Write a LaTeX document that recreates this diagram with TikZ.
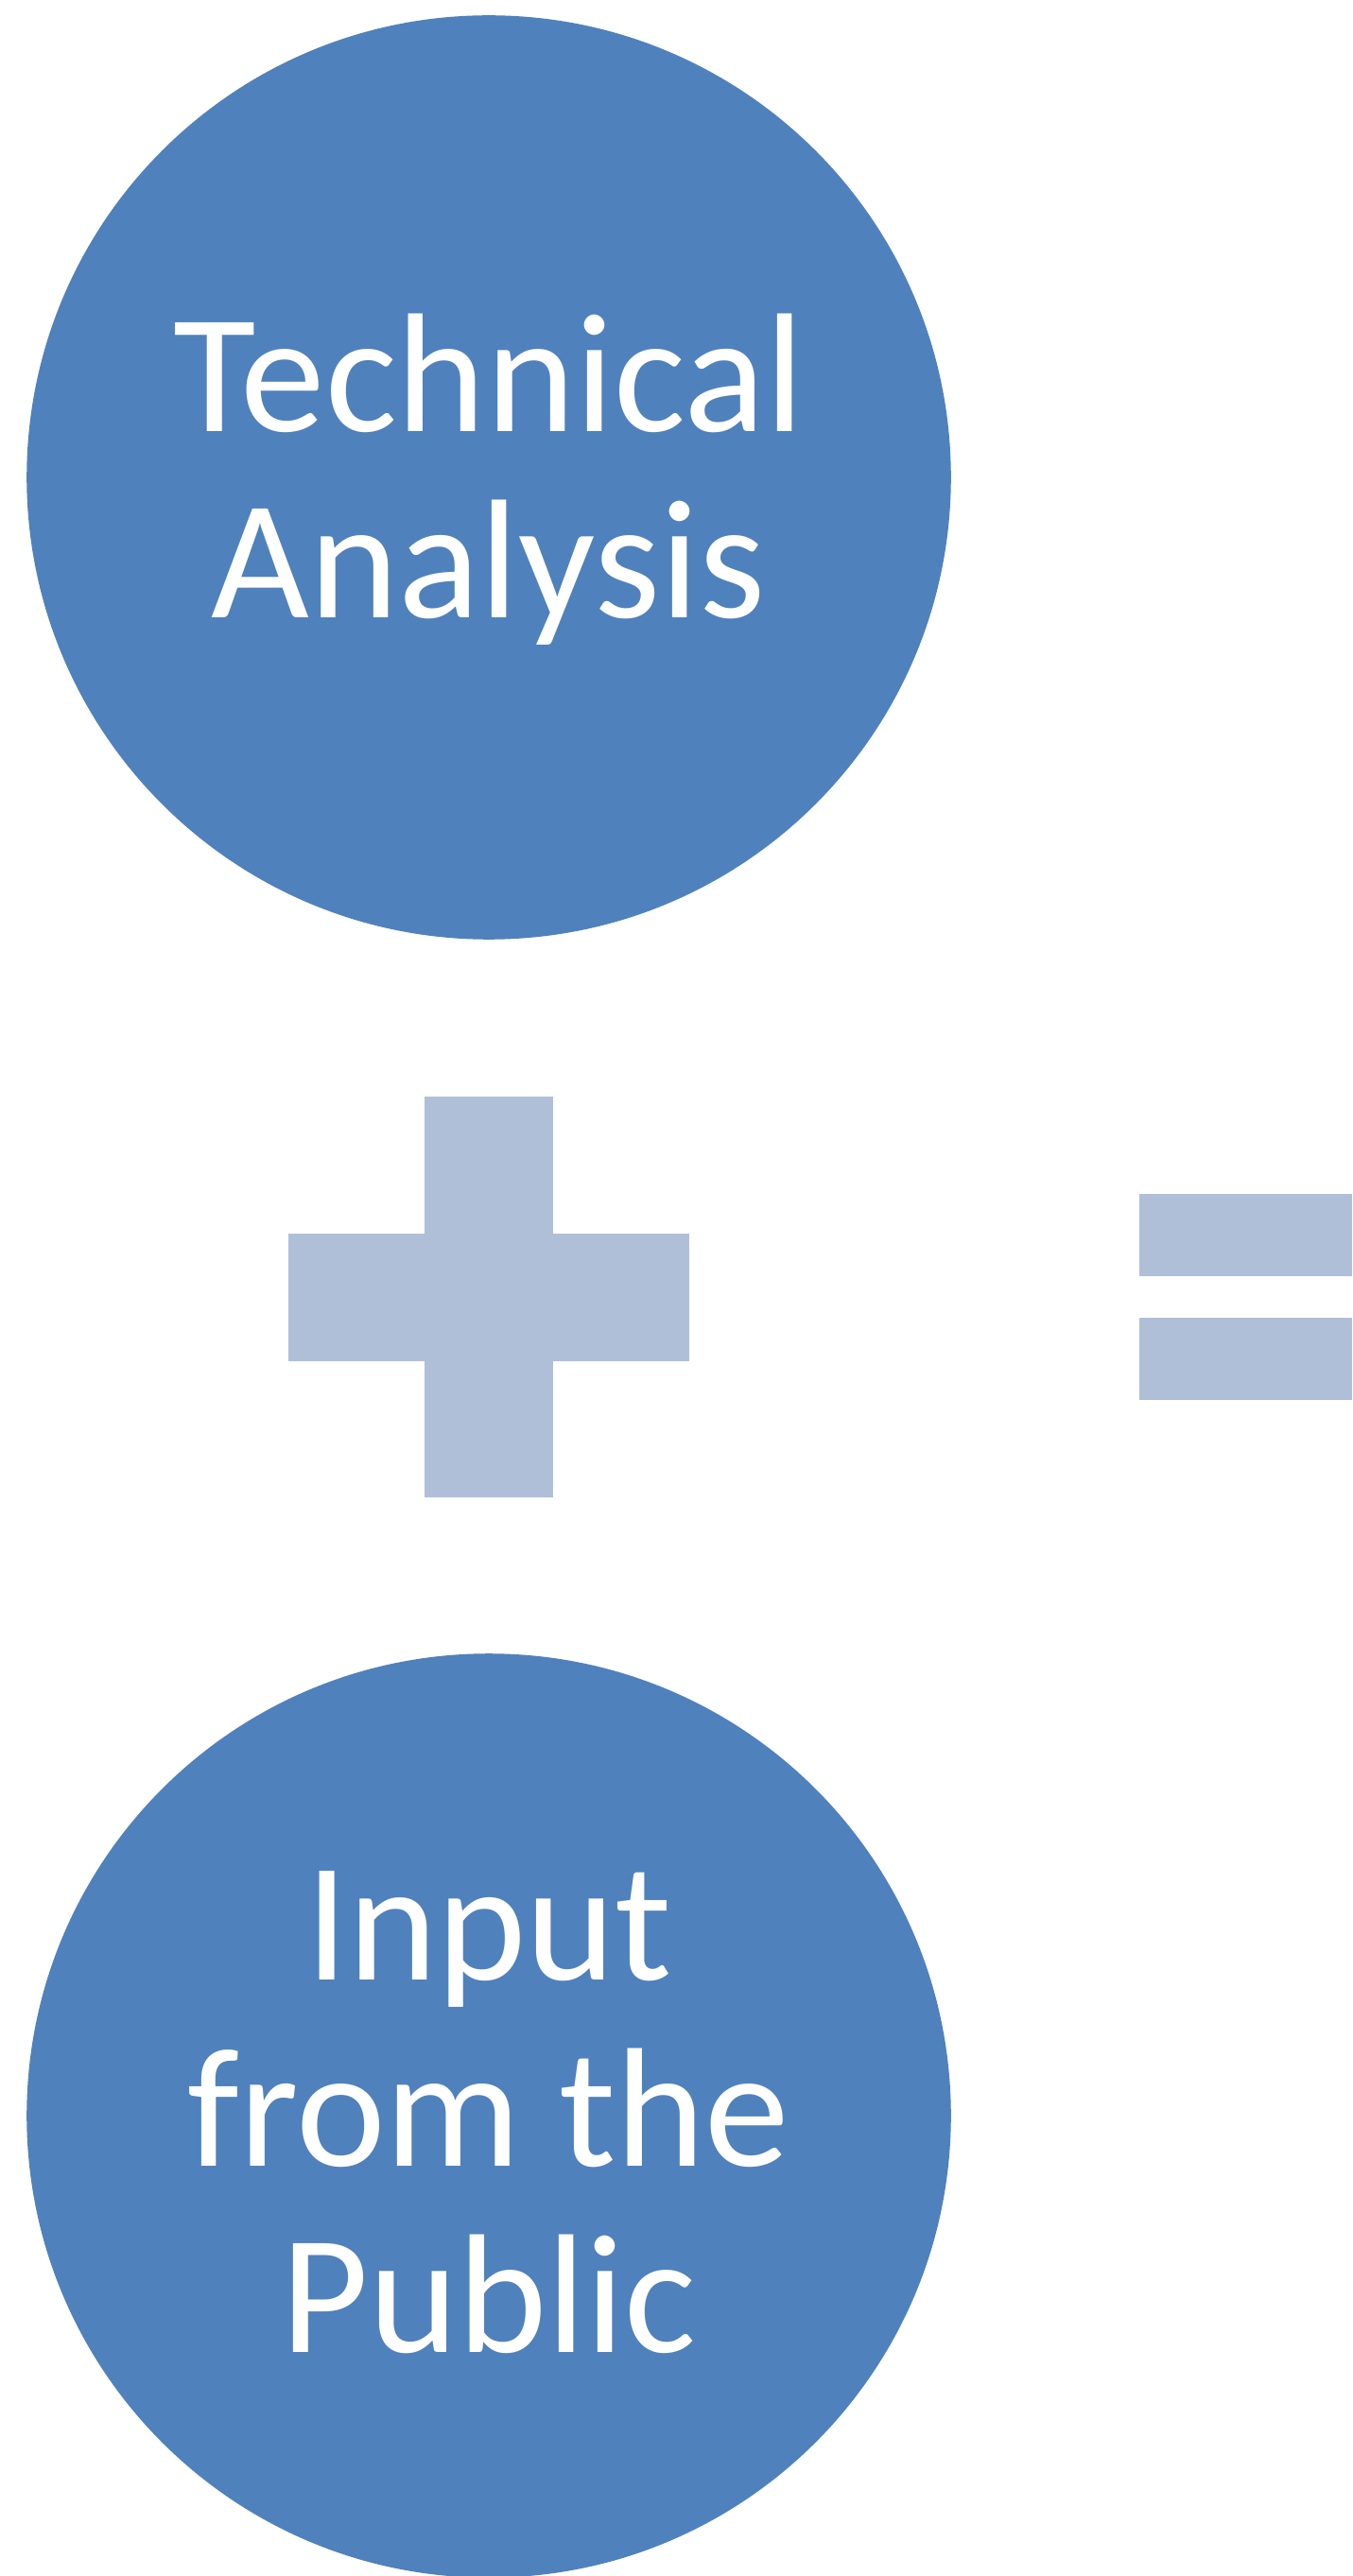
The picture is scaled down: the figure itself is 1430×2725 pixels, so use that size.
\documentclass[tikz,border=0pt]{standalone}
\usepackage{fontspec}
\setmainfont{Carlito}
\usepackage{xcolor}
\usetikzlibrary{positioning}

\definecolor{discblue}{RGB}{79,129,189}
\definecolor{signblue}{RGB}{176,191,216}

\begin{document}
\begin{tikzpicture}[
    x=0.01cm, y=-0.01cm,
    disc/.style={
        circle, fill=discblue, draw=none,
        minimum size=9.77cm, inner sep=0pt
    },
    disctext/.style={
        text=white, align=center, inner sep=0pt,
        font=\fontsize{51pt}{56pt}\selectfont
    },
    sign/.style={
        fill=signblue
    }
]
\useasboundingbox (0,0) rectangle (1430,2725);

% — Circles —
\node[disc] (tech) at (517,505) {};
\node[disctext] (tech_text) at ([yshift=-0.02cm]tech.center) {Technical\\Analysis};

\node[disc] (public) at (517,2238) {};
\node[disctext] (public_text) at ([yshift=0.03cm]public.center) {Input\\from the\\Public};

% — Plus sign —
\fill[sign] (449,1160) rectangle (585,1584);
\fill[sign] (305,1305) rectangle (729,1440);

% — Equals sign —
\fill[sign] (1205,1263) rectangle (1430,1350);
\fill[sign] (1205,1394) rectangle (1430,1481);

\end{tikzpicture}
\end{document}
